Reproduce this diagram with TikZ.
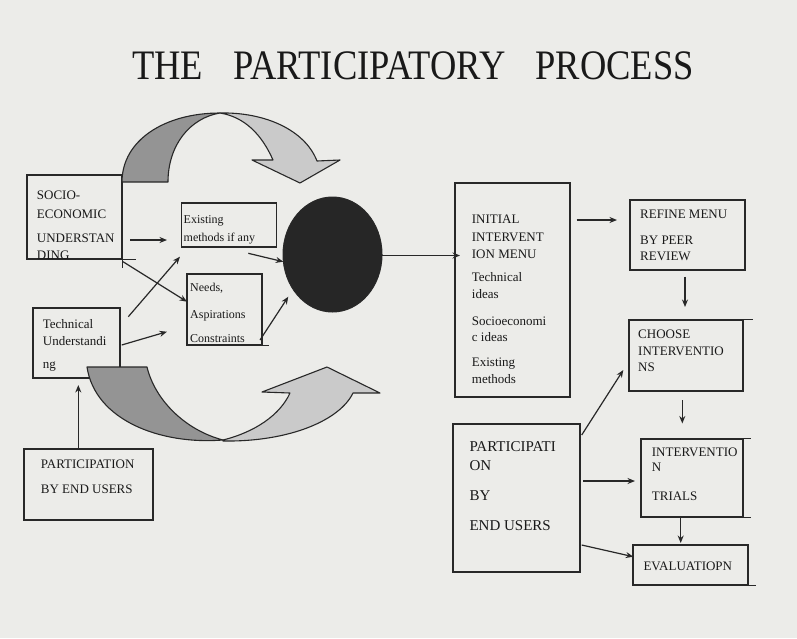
\documentclass[tikz,border=0pt]{standalone}
\usepackage{fontspec}
\setmainfont{Liberation Serif}
\usetikzlibrary{arrows.meta,shapes.geometric}
\definecolor{paper}{RGB}{236,236,233}
\definecolor{ink}{RGB}{40,40,40}
\definecolor{txt}{RGB}{25,25,25}
\definecolor{darkband}{RGB}{148,148,148}
\definecolor{lightband}{RGB}{202,202,202}
\definecolor{ball}{RGB}{38,38,38}
\begin{document}
\begin{tikzpicture}[x=1pt,y=-1pt,
  box/.style={draw=ink,line width=1.4pt,inner sep=0pt},
  ext/.style={draw=ink,line width=1.4pt},
  lbl/.style={anchor=base west,inner sep=0pt,text=txt,font=\fontsize{13}{13}\selectfont},
  big/.style={lbl,font=\fontsize{15}{15}\selectfont},
  arr/.style={draw=ink,line width=1.2pt,-{Stealth[length=7.5pt,width=6pt]}},
  band/.style={draw=ink,line width=1.1pt,line join=round}]
\useasboundingbox (0,0) rectangle (797,638);
\fill[paper] (0,0) rectangle (797,638);

% title
\node (title) [anchor=base,inner sep=0pt,text=txt] at (413,79)
  {\scalebox{1}[1.15]{\fontsize{36.5}{36.5}\selectfont THE\hspace{30pt}PARTICIPATORY\hspace{30pt}PROCESS}};

% left boxes
\node (socio) [box,minimum width=95pt,minimum height=84pt] at (74.5,217) {};
\draw[ext] (socio.south east) -- ++(13,0);
\draw[ext] (socio.south east) -- ++(0,8);
\node (s1) [lbl] at (36.7,199) {SOCIO-};
\node (s2) [lbl] at (36.7,218) {ECONOMIC};
\node (s3) [lbl] at (36.7,242.5) {UNDERSTAN};
\node (s4) [lbl] at (36.7,259) {DING};

\node (exist) [box,minimum width=95pt,minimum height=44pt] at (229,225) {};
\node (e1) [lbl,font=\fontsize{12}{12}\selectfont] at (183.5,223) {Existing};
\node (e2) [lbl,font=\fontsize{12}{12}\selectfont] at (183.5,241.5) {methods if any};

\node (needs) [box,minimum width=75pt,minimum height=71pt] at (224.5,309.5) {};
\draw[ext] (needs.south east) -- ++(6,0);
\node (n1) [lbl,font=\fontsize{12}{12}\selectfont] at (190,291.5) {Needs,};
\node (n2) [lbl,font=\fontsize{12}{12}\selectfont] at (190,318) {Aspirations};
\node (n3) [lbl,font=\fontsize{12}{12}\selectfont] at (190,342.5) {Constraints};

\node (tech) [box,minimum width=87pt,minimum height=70pt] at (76.5,343) {};
\node (t1) [lbl] at (42.7,328) {Technical};
\node (t2) [lbl] at (42.7,345) {Understandi};
\node (t3) [lbl] at (42.7,368) {ng};

\node (partL) [box,minimum width=129pt,minimum height=71pt] at (88.5,484.5) {};
\node (p1) [lbl] at (40.7,468.3) {PARTICIPATION};
\node (p2) [lbl] at (40.7,493.3) {BY END USERS};

% curved arrows
\path[band,fill=darkband] (122,182) .. controls (122,140) and (165,113) .. (220,113)
  .. controls (190,118) and (168,145) .. (168,182) -- cycle;
\path[band,fill=lightband] (220,113) .. controls (265,112) and (305,130) .. (317,161)
  -- (340,160) -- (300,183) -- (252,160) -- (273,160)
  .. controls (262,135) and (245,117) .. (220,113) -- cycle;
\path[band,fill=darkband] (87,367) -- (147,367) .. controls (155,400) and (185,430) .. (223,440)
  .. controls (160,445) and (95,420) .. (87,367) -- cycle;
\path[band,fill=lightband] (223,440) .. controls (255,432) and (280,415) .. (290,393)
  -- (262,392) -- (327,367) -- (380,393) -- (353,393)
  .. controls (340,420) and (290,442) .. (223,441) -- cycle;

% circle
\node (ball) [draw=ink,fill=ball,line width=1pt,ellipse,minimum width=99pt,minimum height=115pt,inner sep=0pt] at (332.5,254.5) {};

% right boxes
\node (init) [box,minimum width=115pt,minimum height=214pt] at (512.5,290) {};
\node (i1) [lbl] at (471.7,223.3) {INITIAL};
\node (i2) [lbl] at (471.7,241.7) {INTERVENT};
\node (i3) [lbl] at (471.7,258.3) {ION MENU};
\node (i4) [lbl] at (471.7,281.7) {Technical};
\node (i5) [lbl] at (471.7,298.3) {ideas};
\node (i6) [lbl] at (471.7,325) {Socioeconomi};
\node (i7) [lbl] at (471.7,341.7) {c ideas};
\node (i8) [lbl] at (471.7,366.7) {Existing};
\node (i9) [lbl] at (471.7,383.3) {methods};

\node (refine) [box,minimum width=115pt,minimum height=70pt] at (687.5,235) {};
\node (r1) [lbl] at (640,218.3) {REFINE MENU};
\node (r2) [lbl] at (640,244) {BY PEER};
\node (r3) [lbl] at (640,260) {REVIEW};

\node (choose) [box,minimum width=114pt,minimum height=71pt] at (686,355.5) {};
\draw[ext] (choose.north east) -- ++(9,0);
\node (c1) [lbl] at (638,338.3) {CHOOSE};
\node (c2) [lbl] at (638,355) {INTERVENTIO};
\node (c3) [lbl] at (638,371.7) {NS};

\node (trials) [box,minimum width=102pt,minimum height=78pt] at (692,478) {};
\draw[ext] (trials.north east) -- ++(7,0);
\draw[ext] (trials.south east) -- ++(7,0);
\node (tr1) [lbl] at (651.7,456.7) {INTERVENTIO};
\node (tr2) [lbl] at (651.7,471.7) {N};
\node (tr3) [lbl] at (651.7,500) {TRIALS};

\node (eval) [box,minimum width=115pt,minimum height=40pt] at (690.5,565) {};
\draw[ext] (eval.south east) -- ++(7,0);
\node (ev1) [lbl] at (643.3,570) {EVALUATIOPN};

\node (partR) [box,minimum width=127pt,minimum height=148pt] at (516.5,498) {};
\node (q1) [big] at (469.3,451.7) {PARTICIPATI};
\node (q2) [big] at (469.3,470) {ON};
\node (q3) [big] at (469.3,500) {BY};
\node (q4) [big] at (469.3,530) {END USERS};

% connector end points
\coordinate (a1) at (130,240);      \coordinate (b1) at (167,240);
\coordinate (a2) at (123,261.7);    \coordinate (b2) at (187,301.7);
\coordinate (a3) at (128.3,316.7);  \coordinate (b3) at (180,256.7);
\coordinate (a4) at (121.7,345);    \coordinate (b4) at (167,331.7);
\coordinate (a5) at (248.3,253.3);  \coordinate (b5) at (283.3,261.7);
\coordinate (a6) at (260,340);      \coordinate (b6) at (288.3,296.7);
\coordinate (a7) at (382,255.5);    \coordinate (b7) at (460,255.5);
\coordinate (a8) at (78.3,449);     \coordinate (b8) at (78.3,385);
\coordinate (a9) at (576.7,220);    \coordinate (b9) at (617,220);
\coordinate (a10) at (685,276.7);   \coordinate (b10) at (685,307);
\coordinate (a11) at (682.3,400);   \coordinate (b11) at (682.3,423.5);
\coordinate (a12) at (581.7,435);   \coordinate (b12) at (623.3,370);
\coordinate (a13) at (583.3,481);   \coordinate (b13) at (635,481);
\coordinate (a14) at (581.7,545);   \coordinate (b14) at (633.3,556.7);
\coordinate (a15) at (680.7,518);   \coordinate (b15) at (680.7,543);

\draw[arr] (a1) -- (b1);
\draw[arr] (a2) -- (b2);
\draw[arr] (a3) -- (b3);
\draw[arr] (a4) -- (b4);
\draw[arr] (a5) -- (b5);
\draw[arr] (a6) -- (b6);
\draw[arr] (a7) -- (b7);
\draw[arr] (a8) -- (b8);
\draw[arr] (a9) -- (b9);
\draw[arr] (a10) -- (b10);
\draw[arr] (a11) -- (b11);
\draw[arr] (a12) -- (b12);
\draw[arr] (a13) -- (b13);
\draw[arr] (a14) -- (b14);
\draw[arr] (a15) -- (b15);
\end{tikzpicture}
\end{document}
